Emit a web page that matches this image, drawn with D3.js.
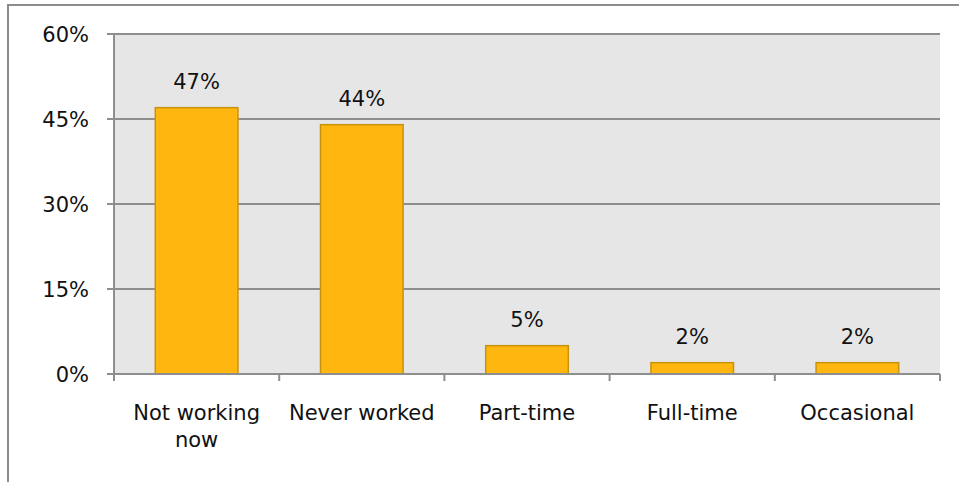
<!DOCTYPE html>
<html>
<head>
<meta charset="utf-8">
<script src="https://cdn.jsdelivr.net/npm/d3@7"></script>
<style>
	body { margin: 0; background: #fff; }
	svg { display: block; }
</style>
</head>
<body>
<script>
	// data
	var categories = ["Not working now", "Never worked", "Part-time", "Full-time", "Occasional"];
	var values = [47, 44, 5, 2, 2];
	var yTicks = [0, 15, 30, 45, 60];

	var width = 959,
		height = 482;
	var plot = {left: 114, right: 940, top: 34, bottom: 374};
	var font = "'DejaVu Sans', sans-serif";

	var svg = d3.select("body").append("svg")
		.attr("width", width)
		.attr("height", height);

	// outer frame
	svg.append("rect")
		.attr("x", 8)
		.attr("y", 5)
		.attr("width", 960)
		.attr("height", 500)
			.style("fill", "none")
			.style("stroke", "#8c8c8c")
			.style("stroke-width", 2);

	var x = d3.scaleBand()
		.domain(categories)
		.range([plot.left, plot.right])
		.paddingInner(0.5)
		.paddingOuter(0.25);

	var y = d3.scaleLinear()
		.domain([0, 60])
		.range([plot.bottom, plot.top]);

	// plot background
	svg.append("rect")
		.attr("x", plot.left)
		.attr("y", plot.top)
		.attr("width", plot.right - plot.left)
		.attr("height", plot.bottom - plot.top)
			.style("fill", "#e6e6e6");

	// gridlines
	svg.append("g")
		.selectAll("line")
		.data(yTicks)
		.enter().append("line")
			.attr("x1", plot.left - 7)
			.attr("x2", plot.right)
			.attr("y1", function(d) { return y(d); })
			.attr("y2", function(d) { return y(d); })
				.style("stroke", "#8e8e8e")
				.style("stroke-width", 2);

	// y labels
	svg.append("g")
		.selectAll("text")
		.data(yTicks)
		.enter().append("text")
			.attr("x", plot.left - 25)
			.attr("y", function(d) { return y(d); })
			.attr("dy", "0.36em")
			.attr("text-anchor", "end")
				.style("font-family", font)
				.style("font-size", "21px")
				.style("fill", "#111")
			.text(function(d) { return d + "%"; });

	// y axis line
	svg.append("line")
		.attr("x1", plot.left)
		.attr("x2", plot.left)
		.attr("y1", plot.top)
		.attr("y2", plot.bottom)
			.style("stroke", "#8e8e8e")
			.style("stroke-width", 2);

	// category separators (ticks below the axis)
	var edges = d3.range(categories.length + 1).map(function(i) {
		return plot.left + i * (plot.right - plot.left) / categories.length;
	});
	svg.append("g")
		.selectAll("line")
		.data(edges)
		.enter().append("line")
			.attr("x1", function(d) { return d; })
			.attr("x2", function(d) { return d; })
			.attr("y1", plot.bottom)
			.attr("y2", plot.bottom + 7)
				.style("stroke", "#8e8e8e")
				.style("stroke-width", 2);

	// bars
	svg.append("g")
		.selectAll("rect")
		.data(values)
		.enter().append("rect")
			.attr("x", function(d, i) { return x(categories[i]); })
			.attr("y", function(d) { return y(d); })
			.attr("width", x.bandwidth())
			.attr("height", function(d) { return y(0) - y(d); })
				.style("fill", "#ffb60e")
				.style("stroke", "#c8930c")
				.style("stroke-width", 1.5);

	// x axis line over bars
	svg.append("line")
		.attr("x1", plot.left - 7)
		.attr("x2", plot.right)
		.attr("y1", plot.bottom)
		.attr("y2", plot.bottom)
			.style("stroke", "#8e8e8e")
			.style("stroke-width", 2);

	// value labels
	svg.append("g")
		.selectAll("text")
		.data(values)
		.enter().append("text")
			.attr("x", function(d, i) { return x(categories[i]) + x.bandwidth() / 2; })
			.attr("y", function(d) { return y(d) - 19; })
			.attr("text-anchor", "middle")
				.style("font-family", font)
				.style("font-size", "21px")
				.style("fill", "#111")
			.text(function(d) { return d + "%"; });

	// category labels, wrapped to the band
	var labelWidth = (plot.right - plot.left) / categories.length - 10;
	categories.forEach(function(c, i) {
		var cx = x(c) + x.bandwidth() / 2;
		var t = svg.append("text")
			.attr("x", cx)
			.attr("y", 420)
			.attr("text-anchor", "middle")
				.style("font-family", font)
				.style("font-size", "21px")
				.style("fill", "#111");
		var words = c.split(" "), line = [];
		var tspan = t.append("tspan").attr("x", cx).attr("dy", 0);
		words.forEach(function(w) {
			line.push(w);
			tspan.text(line.join(" "));
			if (tspan.node().getComputedTextLength() > labelWidth && line.length > 1) {
				line.pop();
				tspan.text(line.join(" "));
				line = [w];
				tspan = t.append("tspan")
					.attr("x", cx)
					.attr("dy", "1.3em")
					.text(w);
			}
		});
	});
</script>
</body>
</html>
